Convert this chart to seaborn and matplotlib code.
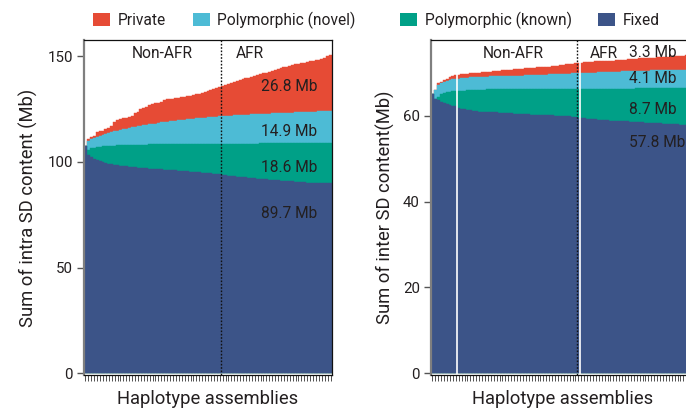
import matplotlib
matplotlib.use('Agg')
import matplotlib.pyplot as plt
import seaborn as sns
from matplotlib.patches import Patch

# ---------------- data ----------------
categories = ['Private', 'Polymorphic (novel)', 'Polymorphic (known)', 'Fixed']

# intra SD: cumulative tops per haplotype (Mb)
n_nonafr_intra = 47
intra_fixed = [107.3, 103.0, 102.1, 101.4, 100.8, 100.3, 99.9, 99.5, 99.2, 98.9,
               98.6, 98.4, 98.2, 98.0, 97.8, 97.7, 97.5, 97.4, 97.2, 97.1,
               97.0, 96.9, 96.8, 96.7, 96.6, 96.5, 96.4, 96.3, 96.2, 96.1,
               96.0, 95.9, 95.8, 95.7, 95.6, 95.5, 95.4, 95.3, 95.2, 95.0,
               94.9, 94.8, 94.6, 94.5, 94.4, 94.2, 94.1,
               93.9, 93.7, 93.5, 93.3, 93.2, 93.0, 92.9, 92.7, 92.6, 92.4,
               92.3, 92.2, 92.0, 91.9, 91.8, 91.7, 91.5, 91.4, 91.3, 91.2,
               91.1, 91.0, 90.9, 90.8, 90.7, 90.6, 90.5, 90.4, 90.3, 90.2,
               90.2, 90.1, 90.1, 90.0, 90.0, 89.9, 89.9, 89.8]
intra_known_top = [107.3, 105.8, 106.3, 106.7, 107.0, 107.2, 107.4, 107.5, 107.6, 107.7,
                   107.7, 107.8, 107.8, 107.9, 107.9, 108.0, 108.0, 108.0, 108.1, 108.1,
                   108.1, 108.1, 108.2, 108.2, 108.2, 108.2, 108.2, 108.3, 108.3, 108.3,
                   108.3, 108.3, 108.3, 108.4, 108.4, 108.4, 108.4, 108.4, 108.4, 108.4,
                   108.5, 108.5, 108.5, 108.5, 108.5, 108.5, 108.5,
                   108.5, 108.5, 108.5, 108.6, 108.6, 108.6, 108.6, 108.6, 108.6, 108.6,
                   108.6, 108.6, 108.6, 108.7, 108.7, 108.7, 108.7, 108.7, 108.7, 108.7,
                   108.7, 108.7, 108.7, 108.8, 108.8, 108.8, 108.8, 108.8, 108.8, 108.8,
                   108.8, 108.8, 108.8, 108.8, 108.8, 108.8, 108.8, 108.8]
intra_novel_top = [107.3, 110.0, 110.8, 111.4, 111.9, 112.3, 112.8, 113.2, 113.6, 114.0,
                   114.4, 114.8, 115.1, 115.4, 115.7, 116.0, 116.3, 116.6, 116.8, 117.0,
                   117.3, 117.5, 117.7, 117.9, 118.1, 118.4, 118.6, 118.8, 119.0, 119.2,
                   119.4, 119.5, 119.7, 119.8, 120.0, 120.1, 120.3, 120.4, 120.5, 120.7,
                   120.8, 120.9, 121.0, 121.1, 121.3, 121.4, 121.5,
                   121.6, 121.7, 121.8, 121.9, 122.0, 122.0, 122.1, 122.2, 122.3, 122.3,
                   122.4, 122.5, 122.5, 122.6, 122.7, 122.7, 122.8, 122.9, 122.9, 123.0,
                   123.1, 123.1, 123.2, 123.3, 123.3, 123.4, 123.4, 123.5, 123.5, 123.6,
                   123.6, 123.7, 123.7, 123.8, 123.8, 123.9, 123.9, 124.0]
intra_total = [107.3, 110.6, 111.5, 112.3, 113.9, 114.5, 114.5, 115.3, 116.1, 117.0,
               118.9, 119.7, 120.1, 120.5, 120.9, 121.3, 121.8, 122.9, 123.7, 124.8,
               125.3, 126.0, 126.8, 127.2, 127.6, 128.0, 128.5, 129.0, 129.5, 129.7,
               129.9, 130.1, 130.3, 130.5, 130.8, 131.0, 131.3, 131.6, 131.9, 132.2,
               132.6, 133.0, 133.4, 133.9, 134.4, 134.9, 135.4,
               135.9, 136.3, 136.8, 137.2, 137.7, 138.2, 138.7, 139.0, 139.4, 139.8,
               140.2, 140.6, 141.0, 141.4, 141.8, 142.1, 142.5, 142.9, 143.3, 143.8,
               144.2, 144.6, 145.0, 145.4, 145.8, 146.1, 146.3, 146.6, 146.9, 147.2,
               147.5, 147.7, 148.0, 148.3, 148.6, 149.0, 149.8, 150.5]
intra_labels = ['26.8 Mb', '14.9 Mb', '18.6 Mb', '89.7 Mb']

# inter SD: cumulative tops per haplotype (Mb)
n_nonafr_inter = 50
inter_gaps = [8, 50]
inter_fixed = [65.0, 64.0, 63.7, 63.3, 62.9, 62.8, 62.5, 62.4, 62.2, 61.8,
               61.6, 61.5, 61.3, 61.3, 61.2, 61.1, 61.0, 60.9, 60.9, 60.8,
               60.8, 60.8, 60.8, 60.7, 60.7, 60.7, 60.6, 60.6, 60.5, 60.5,
               60.5, 60.4, 60.4, 60.4, 60.3, 60.3, 60.3, 60.2, 60.2, 60.2,
               60.1, 60.1, 60.0, 60.0, 60.0, 59.9, 59.9, 59.9, 59.8, 59.8,
               59.5, 59.4, 59.4, 59.3, 59.3, 59.2, 59.2, 59.1, 59.1, 59.0,
               59.0, 58.9, 58.9, 58.8, 58.8, 58.8, 58.7, 58.7, 58.6, 58.6,
               58.6, 58.5, 58.5, 58.4, 58.4, 58.4, 58.3, 58.3, 58.3, 58.2,
               58.2, 58.2, 58.1, 58.1, 58.1, 58.0, 58.0, 57.9, 57.9, 57.8]
inter_known_top = [65.0, 64.0, 64.5, 65.0, 65.4, 65.5, 65.6, 65.7, 65.8, 65.8,
                   65.9, 65.9, 66.0, 66.0, 66.0, 66.1, 66.1, 66.1, 66.1, 66.2,
                   66.2, 66.2, 66.2, 66.2, 66.2, 66.3, 66.3, 66.3, 66.3, 66.3,
                   66.3, 66.3, 66.3, 66.3, 66.3, 66.3, 66.3, 66.3, 66.3, 66.3,
                   66.3, 66.3, 66.3, 66.3, 66.3, 66.3, 66.3, 66.3, 66.3, 66.3,
                   66.3, 66.3, 66.3, 66.3, 66.3, 66.3, 66.3, 66.3, 66.3, 66.3,
                   66.3, 66.3, 66.3, 66.3, 66.3, 66.3, 66.3, 66.3, 66.3, 66.3,
                   66.4, 66.4, 66.4, 66.4, 66.4, 66.4, 66.4, 66.4, 66.4, 66.4,
                   66.4, 66.4, 66.4, 66.4, 66.4, 66.4, 66.4, 66.4, 66.4, 66.4]
inter_novel_top = [65.0, 66.1, 67.2, 67.6, 67.9, 68.1, 68.3, 68.5, 68.6, 68.7,
                   68.8, 68.9, 68.9, 69.0, 69.0, 69.0, 69.1, 69.1, 69.1, 69.1,
                   69.2, 69.2, 69.2, 69.2, 69.3, 69.3, 69.3, 69.3, 69.4, 69.4,
                   69.4, 69.4, 69.5, 69.5, 69.5, 69.5, 69.6, 69.6, 69.6, 69.6,
                   69.7, 69.7, 69.7, 69.7, 69.8, 69.8, 69.8, 69.8, 69.9, 69.9,
                   70.0, 70.0, 70.0, 70.1, 70.1, 70.1, 70.1, 70.2, 70.2, 70.2,
                   70.2, 70.3, 70.3, 70.3, 70.3, 70.4, 70.4, 70.4, 70.4, 70.4,
                   70.5, 70.5, 70.5, 70.5, 70.5, 70.6, 70.6, 70.6, 70.6, 70.6,
                   70.6, 70.7, 70.7, 70.7, 70.7, 70.7, 70.7, 70.8, 70.8, 70.8]
inter_total = [65.0, 66.1, 67.6, 68.0, 68.3, 68.6, 69.1, 69.4, 69.5, 69.6,
               69.7, 69.8, 69.8, 69.9, 70.0, 70.0, 70.1, 70.2, 70.2, 70.3,
               70.3, 70.4, 70.5, 70.5, 70.6, 70.7, 70.8, 70.8, 70.9, 70.9,
               71.0, 71.0, 71.1, 71.1, 71.2, 71.2, 71.3, 71.4, 71.4, 71.5,
               71.5, 71.6, 71.7, 71.7, 71.8, 71.9, 72.0, 72.1, 72.2, 72.3,
               72.4, 72.4, 72.5, 72.5, 72.6, 72.6, 72.7, 72.7, 72.8, 72.8,
               72.8, 72.9, 72.9, 73.0, 73.0, 73.1, 73.1, 73.2, 73.2, 73.3,
               73.3, 73.4, 73.4, 73.5, 73.5, 73.6, 73.6, 73.7, 73.7, 73.7,
               73.8, 73.8, 73.9, 73.9, 73.9, 74.0, 74.0, 74.1, 74.1, 74.2]
inter_labels = ['3.3 Mb', '4.1 Mb', '8.7 Mb', '57.8 Mb']

colors = ['#E64B35', '#4DBBD5', '#00A087', '#3C5488']
TXT = '#231F20'

# ---------------- style ----------------
sns.set_theme(style='white')
plt.rcParams['font.family'] = ['Roboto', 'DejaVu Sans']
plt.rcParams['text.color'] = TXT
plt.rcParams['axes.labelcolor'] = TXT
plt.rcParams['xtick.color'] = '#444444'
plt.rcParams['ytick.color'] = '#444444'

W, H = 686, 408
fig = plt.figure(figsize=(W / 100, H / 100), dpi=100)
fig.patch.set_facecolor('white')

def add_ax(x0, x1, ytop, ybot):
    return fig.add_axes([x0 / W, 1 - ybot / H, (x1 - x0) / W, (ybot - ytop) / H])

bw = 2.918
ax1 = add_ax(84, 84 + 85 * bw, 40, 375)
ax2 = add_ax(431, 431 + 90 * bw, 40, 375)


def draw(ax, layers, n_nonafr, ylim, yticks, ylabel, labels, lab_x, lab_y, grp_y, labelpad):
    n = len(layers[0])
    idx = list(range(n))
    for vals, c in zip(layers, colors):
        sns.barplot(x=idx, y=vals, color=c, width=1.0, saturation=1,
                    edgecolor=c, linewidth=0.3, ax=ax, errorbar=None)
    ax.set_xlim(-0.5, n - 0.5)
    ax.set_ylim(*ylim)
    ax.set_yticks(yticks)
    ax.set_yticklabels([str(t) for t in yticks])
    ax.set_xticks(idx)
    ax.set_xticklabels([])
    ax.tick_params(axis='x', length=4, width=0.6, color='#333333', bottom=True)
    ax.tick_params(axis='y', length=5, width=1.0, color='#555555', left=True,
                   labelsize=10.8, pad=3, labelcolor=TXT)
    ax.set_xlabel('Haplotype assemblies', fontsize=13.2, labelpad=3)
    ax.set_ylabel(ylabel, fontsize=13.2, labelpad=labelpad)
    ax.axvline(n_nonafr - 0.5, color='#111111', lw=1.0, ls=(0, (1.2, 1.2)))
    for sp in ['top', 'right', 'bottom']:
        ax.spines[sp].set_color('#111111')
        ax.spines[sp].set_linewidth(0.9)
    ax.spines['left'].set_color('#7f7f7f')
    ax.spines['left'].set_linewidth(1.6)
    for t, y in zip(labels, lab_y):
        ax.text(lab_x, y, t, ha='left', va='center', fontsize=11.2, color=TXT)
    ax.text((n_nonafr - 0.5) / 2 + 3, grp_y, 'Non-AFR', ha='center', va='center', fontsize=11.2)
    return n


layers1 = [intra_total, intra_novel_top, intra_known_top, intra_fixed]
draw(ax1, layers1, n_nonafr_intra, (-0.8, 157.6), [0, 50, 100, 150],
     'Sum of intra SD content (Mb)', intra_labels, 60.0, [135.8, 114.1, 97.3, 75.7], 151, 7)
ax1.text(n_nonafr_intra + 4.5, 151, 'AFR', ha='left', va='center', fontsize=11.2)

layers2 = [inter_total, inter_novel_top, inter_known_top, inter_fixed]
draw(ax2, layers2, n_nonafr_inter, (-0.4, 77.7), [0, 20, 40, 60],
     'Sum of inter SD content(Mb)', inter_labels, 67.5, [74.9, 68.7, 61.6, 53.7], 74.6, 6)
ax2.text(n_nonafr_inter + 3.9, 74.6, 'AFR', ha='left', va='center', fontsize=11.2)
for g in inter_gaps:
    ax2.axvline(g + 0.5, color='white', lw=1.2)

# legends
h = [Patch(facecolor=c, edgecolor='none', label=l) for c, l in zip(colors, categories)]
kw = dict(loc='center left', frameon=False, fontsize=11.2, handlelength=1.1,
          handleheight=0.95, handletextpad=0.5, columnspacing=1.7,
          borderpad=0, borderaxespad=0, ncol=2)
fig.legend(handles=h[:2], bbox_to_anchor=(93 / W, 1 - 20 / H), **kw)
fig.legend(handles=h[2:], bbox_to_anchor=(400 / W, 1 - 20 / H), **kw)

fig.savefig('out.png', dpi=100)
